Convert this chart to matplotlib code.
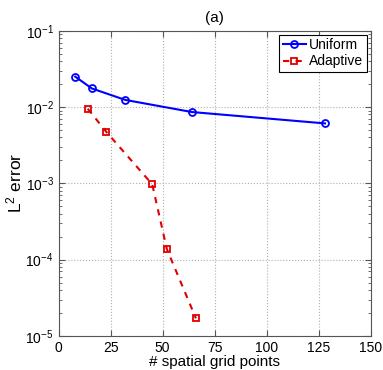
import matplotlib
matplotlib.use("Agg")
import matplotlib.pyplot as plt
from matplotlib.ticker import LogLocator, FixedLocator

plt.rcParams['font.family'] = ['Liberation Sans', 'DejaVu Sans']
plt.rcParams['mathtext.fontset'] = 'custom'
plt.rcParams['mathtext.rm'] = 'Liberation Sans'
plt.rcParams['mathtext.it'] = 'Liberation Sans:italic'

# data
uniform_n = [8, 16, 32, 64, 128]
uniform_err = [0.025, 0.0175, 0.0124, 0.0086, 0.0061]
adaptive_n = [14, 23, 45, 52, 66]
adaptive_err = [0.0095, 0.0047, 0.00097, 1.38e-4, 1.7e-5]
x_ticks = [0, 25, 50, 75, 100, 125, 150]

fig = plt.figure(figsize=(3.83, 3.70), dpi=100)
ax = fig.add_axes([0.153, 0.092, 0.815, 0.825])

ax.semilogy(uniform_n, uniform_err, '-o', color='#0000ff', lw=1.5,
            ms=5, mfc='none', mew=1.3, label='Uniform')
ax.semilogy(adaptive_n, adaptive_err, '--s', color='#e00000', lw=1.5,
            ms=4.5, mfc='none', mew=1.3, label='Adaptive', dashes=(3, 3))

ax.set_xlim(0, 150)
ax.set_ylim(1e-5, 1e-1)
ax.xaxis.set_major_locator(FixedLocator(x_ticks))
ax.yaxis.set_major_locator(LogLocator(base=10, numticks=10))
ax.yaxis.set_minor_locator(LogLocator(base=10, subs=range(2, 10), numticks=50))
ax.grid(True, which='major', ls=':', color='#b0b0b0', lw=0.8)
ax.tick_params(which='both', direction='in', top=True, right=True,
               labelsize=10, color='#555555')
ax.tick_params(which='major', length=4)
ax.tick_params(which='minor', length=2)
for s in ax.spines.values():
    s.set_color('#555555')
    s.set_linewidth(0.8)

ax.set_xlabel('# spatial grid points', fontsize=11, labelpad=0)
ax.set_ylabel('L$^2$ error', fontsize=12.5, labelpad=1)
ax.set_title('(a)', fontsize=11, pad=6)

leg = ax.legend(loc='upper right', fontsize=10, fancybox=False,
                edgecolor='black', framealpha=1, handlelength=1.7,
                borderpad=0.25, labelspacing=0.15, handletextpad=0.2,
                borderaxespad=0.3)
leg.get_frame().set_linewidth(0.8)

fig.savefig('out.png', dpi=100)
